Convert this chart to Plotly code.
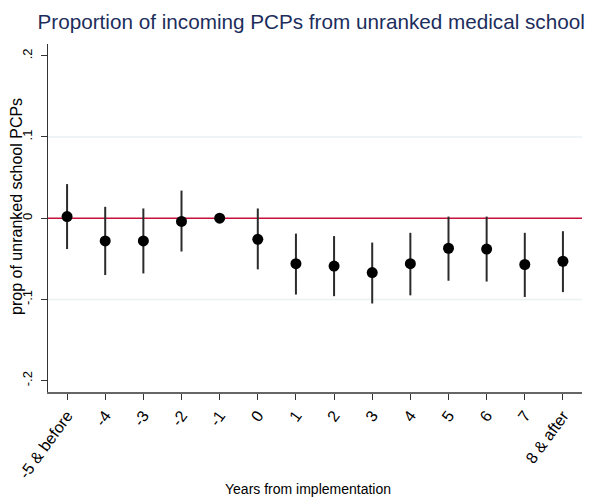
import plotly.graph_objects as go

# event-study coefficients
periods = ["-5 & before", "-4", "-3", "-2", "-1", "0", "1", "2", "3", "4",
           "5", "6", "7", "8 & after"]
coef = [0.002, -0.028, -0.028, -0.004, 0.0, -0.026, -0.056, -0.059, -0.067,
        -0.056, -0.037, -0.038, -0.057, -0.053]
ci_hi = [0.042, 0.014, 0.012, 0.034, 0.0, 0.012, -0.019, -0.022, -0.030,
         -0.018, 0.002, 0.002, -0.018, -0.016]
ci_lo = [-0.038, -0.070, -0.068, -0.041, 0.0, -0.063, -0.094, -0.096, -0.105,
         -0.095, -0.077, -0.078, -0.097, -0.091]

y_ticks = [-0.2, -0.1, 0, 0.1, 0.2]
y_tick_text = ["-.2", "-.1", "0", ".1", ".2"]

NAVY = "#1C2D5C"
CRANBERRY = "#C8103C"
GRID = "#EAF2F3"

fig = go.Figure()
fig.add_scatter(
    x=periods, y=coef, mode="markers",
    marker=dict(color="black", size=11),
    error_y=dict(
        type="data", symmetric=False,
        array=[h - c for h, c in zip(ci_hi, coef)],
        arrayminus=[c - l for c, l in zip(coef, ci_lo)],
        color="#2b2b2b", thickness=2, width=0,
    ),
    showlegend=False,
)

for g in (0.1, -0.1):
    fig.add_hline(y=g, line=dict(color=GRID, width=1.5), layer="below")
fig.add_hline(y=0, line=dict(color=CRANBERRY, width=1.5), layer="below")

# axis titles as annotations so they land where the original has them
fig.add_annotation(
    text="prop of unranked school PCPs", textangle=-90,
    xref="paper", yref="paper", x=-0.058, y=0.532,
    xanchor="center", yanchor="middle", showarrow=False,
    font=dict(size=16),
)
fig.add_annotation(
    text="Years from implementation",
    xref="paper", yref="paper", x=0.487, y=-0.279,
    xanchor="center", yanchor="middle", showarrow=False,
    font=dict(size=14),
)

# page body adds an 8px offset, margins are trimmed to compensate
fig.update_layout(
    width=598, height=497,
    margin=dict(l=40, r=24, t=36, b=113),
    plot_bgcolor="white", paper_bgcolor="white",
    font=dict(family="Liberation Sans, Arial, sans-serif", size=14, color="black"),
    title=dict(text="Proportion of incoming PCPs from unranked medical school",
               x=0.507, xanchor="center", y=0.972, yanchor="middle",
               font=dict(size=20.7, color=NAVY)),
    xaxis=dict(
        type="category", range=[-0.5, 13.5], tickangle=-54,
        showgrid=False, zeroline=False, automargin=False,
        showline=True, linecolor="#666", linewidth=2,
        ticks="outside", ticklen=6, tickcolor="#333",
        tickfont=dict(size=16),
    ),
    yaxis=dict(
        range=[-0.214, 0.2145], tickvals=y_ticks, ticktext=y_tick_text,
        tickangle=-90, showgrid=False, zeroline=False, automargin=False,
        showline=True, linecolor="#333", linewidth=1,
        ticks="outside", ticklen=6, tickcolor="#333",
        tickfont=dict(size=13), ticklabelstandoff=4,
    ),
)

fig.write_html("out.html")
